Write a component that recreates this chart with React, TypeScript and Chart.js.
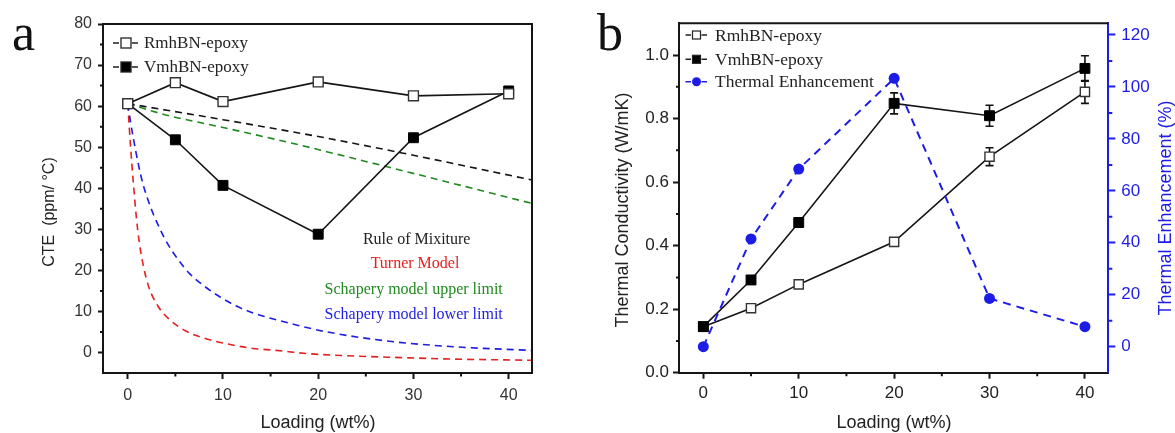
import React, { useEffect, useRef } from 'react';
import { Chart, registerables } from 'chart.js';

Chart.register(...registerables);

// ---------- DATA ----------
const loading = [0, 5, 10, 20, 30, 40];

// panel a: CTE (ppm/°C)
const cteRmh = [60.6, 65.7, 61.1, 65.9, 62.5, 63.0];
const cteVmh = [60.6, 51.8, 40.7, 28.8, 52.3, 63.7];

const mixX = [0, 4.1, 10, 18.1, 20.9, 30.7, 42.45];
const mixY = [60.6, 59.0, 56.7, 53.4, 52.2, 47.7, 42.0];

const upperX = [0, 4.1, 10, 18.1, 20.9, 30.7, 42.45];
const upperY = [60.6, 57.8, 54.8, 50.5, 48.9, 43.2, 36.3];

const lowerX = [0, 0.3, 0.6, 1.1, 1.6, 2.1, 2.7, 3.4, 4.1, 5.3, 6.5, 8.3, 9.7, 11.4, 13.2, 14.9, 17.7, 20.7, 27.2, 34.2, 42.45];
const lowerY = [60.6, 56, 52, 46, 41, 37.3, 33.6, 30, 26.8, 22.6, 19.2, 15.7, 13.5, 11.3, 9.6, 8.4, 6.7, 5.1, 2.8, 1.4, 0.5];

const turnerX = [0, 0.3, 0.6, 0.9, 1.2, 1.6, 2.2, 3.2, 4.4, 6.2, 8, 10, 12.8, 15.6, 19, 23, 28, 34, 42.45];
const turnerY = [60.6, 50, 41, 33, 27, 21.5, 16, 11.2, 8, 5.1, 3.5, 2.3, 1.1, 0.5, -0.3, -0.8, -1.2, -1.6, -1.9];

// panel b: thermal conductivity (W/mK) and enhancement (%)
const tcRmh = [0.145, 0.203, 0.278, 0.412, 0.68, 0.884];
const tcRmhErr = [0.005, 0.01, 0.01, 0.012, 0.028, 0.036];
const tcVmh = [0.145, 0.292, 0.473, 0.848, 0.809, 0.958];
const tcVmhErr = [0.01, 0.01, 0.015, 0.033, 0.033, 0.04];
const enhancement = [0, 41.5, 68.4, 103.3, 18.6, 7.7];

// tick values
const xMajor = [0, 10, 20, 30, 40];
const xMinor = [5, 15, 25, 35];
const cteMajor = [0, 10, 20, 30, 40, 50, 60, 70, 80];
const cteMinor = [5, 15, 25, 35, 45, 55, 65, 75];
const tcMajor = [0, 0.2, 0.4, 0.6, 0.8, 1.0];
const tcMinor = [0.1, 0.3, 0.5, 0.7, 0.9];
const enhMajor = [0, 20, 40, 60, 80, 100, 120];
const enhMinor = [10, 30, 50, 70, 90, 110];

const modelLabels = ['Rule of Mixiture', 'Turner Model', 'Schapery model upper limit', 'Schapery model lower limit'];

// ---------- STYLE ----------
const SANS = '"Liberation Sans", Arial, sans-serif';
const SERIF = '"Liberation Serif", "Times New Roman", serif';
const AXIS = '#151515';
const BLUE = '#1c1ce6';
const RED = '#e52020';
const GREEN = '#1f8a1f';

const pts = (xs: number[], ys: number[]) => xs.map((x, i) => ({ x, y: ys[i] }));

const fixSize = (dim: 'width' | 'height', size: number) => (s: any) => {
  s[dim] = size;
  s.paddingLeft = 0; s.paddingRight = 0; s.paddingTop = 0; s.paddingBottom = 0;
};
const setTicks = (vals: number[]) => (s: any) => { s.ticks = vals.map((v) => ({ value: v })); };

const axisBase = (color: string, fontSize: number, pad: number, tickLen: number) => ({
  grid: { drawOnChartArea: false, drawTicks: true, tickLength: tickLen, tickWidth: 2, tickColor: color },
  border: { display: true, color, width: 2 },
  ticks: { color, padding: pad, font: { family: SANS, size: fontSize } },
});

// draws minor tick marks
const minorTicks = (specs: { id: string; vals: number[]; len: number; color: string }[]) => ({
  id: 'minorTicks',
  afterDraw(chart: any) {
    const ctx = chart.ctx;
    ctx.save();
    ctx.lineWidth = 2;
    for (const sp of specs) {
      const sc = chart.scales[sp.id];
      ctx.strokeStyle = sp.color;
      ctx.beginPath();
      for (const v of sp.vals) {
        const p = sc.getPixelForValue(v);
        if (sc.isHorizontal()) {
          ctx.moveTo(p, sc.top); ctx.lineTo(p, sc.top + sp.len);
        } else if (sc.position === 'left') {
          ctx.moveTo(sc.right, p); ctx.lineTo(sc.right - sp.len, p);
        } else {
          ctx.moveTo(sc.left, p); ctx.lineTo(sc.left + sp.len, p);
        }
      }
      ctx.stroke();
    }
    ctx.restore();
  },
});

const rotText = (ctx: any, text: string, x: number, y: number) => {
  ctx.save();
  ctx.translate(x, y);
  ctx.rotate(-Math.PI / 2);
  ctx.textAlign = 'center';
  ctx.textBaseline = 'middle';
  ctx.fillText(text, 0, 0);
  ctx.restore();
};

function ChartA() {
  const ref = useRef<HTMLCanvasElement>(null);
  useEffect(() => {
    const decor = {
      id: 'decorA',
      afterDraw(chart: any) {
        const ctx = chart.ctx;
        const a = chart.chartArea;
        ctx.save();
        // box top/right
        ctx.strokeStyle = AXIS;
        ctx.lineWidth = 2;
        ctx.beginPath();
        ctx.moveTo(a.left, a.top); ctx.lineTo(a.right, a.top); ctx.lineTo(a.right, a.bottom);
        ctx.stroke();
        // panel letter
        ctx.fillStyle = '#111';
        ctx.font = `52px ${SERIF}`;
        ctx.textAlign = 'left';
        ctx.textBaseline = 'alphabetic';
        ctx.fillText('a', 12, 50);
        // axis titles
        ctx.fillStyle = '#222';
        ctx.font = `18px ${SANS}`;
        ctx.textAlign = 'center';
        ctx.textBaseline = 'middle';
        ctx.fillText('Loading (wt%)', 318, 423);
        ctx.font = `16px ${SANS}`;
        rotText(ctx, 'CTE  (ppm/ °C)', 50, 212);
        // legend
        const rows = [
          { label: 'RmhBN-epoxy', fill: '#fff', y: 43 },
          { label: 'VmhBN-epoxy', fill: '#000', y: 67 },
        ];
        for (const r of rows) {
          ctx.strokeStyle = '#222';
          ctx.lineWidth = 1.5;
          ctx.beginPath();
          ctx.moveTo(113, r.y); ctx.lineTo(119, r.y);
          ctx.moveTo(132, r.y); ctx.lineTo(138, r.y);
          ctx.stroke();
          ctx.fillStyle = r.fill;
          ctx.fillRect(121, r.y - 5, 10, 10);
          ctx.strokeStyle = '#222';
          ctx.lineWidth = 1.3;
          ctx.strokeRect(121, r.y - 5, 10, 10);
          ctx.fillStyle = '#222';
          ctx.font = `17px ${SERIF}`;
          ctx.textAlign = 'left';
          ctx.textBaseline = 'middle';
          ctx.fillText(r.label, 144, r.y + 1);
        }
        // model labels
        const lab = [
          { t: modelLabels[0], c: '#222', x: 416.7, y: 239.5 },
          { t: modelLabels[1], c: RED, x: 415, y: 263.5 },
          { t: modelLabels[2], c: GREEN, x: 413.7, y: 290 },
          { t: modelLabels[3], c: BLUE, x: 413.7, y: 314.5 },
        ];
        ctx.font = `16px ${SERIF}`;
        ctx.textAlign = 'center';
        for (const l of lab) {
          ctx.fillStyle = l.c;
          ctx.fillText(l.t, l.x, l.y);
        }
        ctx.restore();
      },
    };
    const curve = (label: string, xs: number[], ys: number[], color: string, order: number) => ({
      label,
      data: pts(xs, ys),
      borderColor: color,
      borderWidth: 1.6,
      borderDash: [7, 5],
      pointRadius: 0,
      cubicInterpolationMode: 'monotone',
      order,
    });
    const chart = new Chart(ref.current!, {
      type: 'line',
      data: {
        datasets: [
          {
            label: 'RmhBN-epoxy', data: pts(loading, cteRmh), borderColor: '#151515', borderWidth: 1.6,
            pointStyle: 'rect', pointRadius: 7, pointBackgroundColor: '#fff', pointBorderColor: '#333',
            pointBorderWidth: 1.4, order: 0,
          },
          {
            label: 'VmhBN-epoxy', data: pts(loading, cteVmh), borderColor: '#151515', borderWidth: 1.6,
            pointStyle: 'rect', pointRadius: 7, pointBackgroundColor: '#000', pointBorderColor: '#000',
            pointBorderWidth: 1, order: 1,
          },
          curve(modelLabels[0], mixX, mixY, '#151515', 2),
          curve(modelLabels[2], upperX, upperY, GREEN, 3),
          curve(modelLabels[3], lowerX, lowerY, BLUE, 4),
          curve(modelLabels[1], turnerX, turnerY, RED, 5),
        ] as any,
      },
      options: {
        animation: false,
        responsive: false,
        layout: { padding: { left: 0, right: 28, top: 24, bottom: 0 } },
        plugins: { legend: { display: false }, tooltip: { enabled: false } },
        scales: {
          x: {
            type: 'linear', min: -2.6, max: 42.45,
            afterBuildTicks: setTicks(xMajor), afterFit: fixSize('height', 60),
            ...axisBase(AXIS, 16, 7, 6),
            ticks: { color: '#333', padding: 7, font: { family: SANS, size: 16 } },
          },
          y: {
            type: 'linear', min: -5, max: 80,
            afterBuildTicks: setTicks(cteMajor), afterFit: fixSize('width', 103),
            ...axisBase(AXIS, 16, 6, 5),
            ticks: { color: '#333', padding: 6, font: { family: SANS, size: 16 } },
          },
        },
      } as any,
      plugins: [
        minorTicks([
          { id: 'x', vals: xMinor, len: 3.5, color: AXIS },
          { id: 'y', vals: cteMinor, len: 3, color: AXIS },
        ]),
        decor,
      ],
    });
    return () => chart.destroy();
  }, []);
  return <canvas ref={ref} width={560} height={433} style={{ position: 'absolute', left: 0, top: 0 }} />;
}

function ChartB() {
  const ref = useRef<HTMLCanvasElement>(null);
  useEffect(() => {
    const errBars = {
      id: 'errBars',
      beforeDatasetsDraw(chart: any) {
        const ctx = chart.ctx;
        const xs = chart.scales.x;
        const ys = chart.scales.y;
        ctx.save();
        ctx.strokeStyle = '#111';
        ctx.lineWidth = 1.6;
        const sets = [
          { v: tcRmh, e: tcRmhErr },
          { v: tcVmh, e: tcVmhErr },
        ];
        for (const s of sets) {
          ctx.beginPath();
          loading.forEach((x, i) => {
            const px = xs.getPixelForValue(x);
            const y1 = ys.getPixelForValue(s.v[i] + s.e[i]);
            const y2 = ys.getPixelForValue(s.v[i] - s.e[i]);
            ctx.moveTo(px, y1); ctx.lineTo(px, y2);
            ctx.moveTo(px - 4, y1); ctx.lineTo(px + 4, y1);
            ctx.moveTo(px - 4, y2); ctx.lineTo(px + 4, y2);
          });
          ctx.stroke();
        }
        ctx.restore();
      },
    };
    const decor = {
      id: 'decorB',
      afterDraw(chart: any) {
        const ctx = chart.ctx;
        const a = chart.chartArea;
        ctx.save();
        ctx.strokeStyle = AXIS;
        ctx.lineWidth = 2;
        ctx.beginPath();
        ctx.moveTo(a.left, a.top); ctx.lineTo(a.right, a.top);
        ctx.stroke();
        ctx.fillStyle = '#111';
        ctx.font = `52px ${SERIF}`;
        ctx.textAlign = 'left';
        ctx.textBaseline = 'alphabetic';
        ctx.fillText('b', 37, 50);
        ctx.fillStyle = '#222';
        ctx.font = `18px ${SANS}`;
        ctx.textAlign = 'center';
        ctx.textBaseline = 'middle';
        ctx.fillText('Loading (wt%)', 334, 423);
        rotText(ctx, 'Thermal Conductivity (W/mK)', 63, 210);
        ctx.fillStyle = BLUE;
        rotText(ctx, 'Thermal Enhancement (%)', 606, 208);
        // legend
        const rows = [
          { label: 'RmhBN-epoxy', kind: 'open', y: 35 },
          { label: 'VmhBN-epoxy', kind: 'filled', y: 59.3 },
          { label: 'Thermal Enhancement', kind: 'circle', y: 81.7 },
        ];
        for (const r of rows) {
          const c = r.kind === 'circle' ? BLUE : '#222';
          ctx.strokeStyle = c;
          ctx.lineWidth = 1.6;
          ctx.beginPath();
          ctx.moveTo(125.5, r.y); ctx.lineTo(131, r.y);
          ctx.moveTo(141.5, r.y); ctx.lineTo(147, r.y);
          ctx.stroke();
          if (r.kind === 'circle') {
            ctx.fillStyle = BLUE;
            ctx.beginPath();
            ctx.arc(136.5, r.y, 4.5, 0, Math.PI * 2);
            ctx.fill();
          } else {
            ctx.fillStyle = r.kind === 'open' ? '#fff' : '#000';
            ctx.fillRect(132.5, r.y - 4, 8, 8);
            ctx.lineWidth = 1.2;
            ctx.strokeStyle = '#222';
            ctx.strokeRect(132.5, r.y - 4, 8, 8);
          }
          ctx.fillStyle = '#222';
          ctx.font = `17.5px ${SERIF}`;
          ctx.textAlign = 'left';
          ctx.textBaseline = 'middle';
          ctx.fillText(r.label, 155, r.y + 1);
        }
        ctx.restore();
      },
    };
    const chart = new Chart(ref.current!, {
      type: 'line',
      data: {
        datasets: [
          {
            label: 'Thermal Enhancement', data: pts(loading, enhancement), yAxisID: 'y2',
            borderColor: BLUE, borderWidth: 2, borderDash: [8, 6], pointStyle: 'circle', pointRadius: 5.5,
            pointBackgroundColor: BLUE, pointBorderColor: BLUE, pointBorderWidth: 0, order: 0,
          },
          {
            label: 'VmhBN-epoxy', data: pts(loading, tcVmh), yAxisID: 'y',
            borderColor: '#151515', borderWidth: 1.6, pointStyle: 'rect', pointRadius: 7,
            pointBackgroundColor: '#000', pointBorderColor: '#000', pointBorderWidth: 1, order: 1,
          },
          {
            label: 'RmhBN-epoxy', data: pts(loading, tcRmh), yAxisID: 'y',
            borderColor: '#151515', borderWidth: 1.6, pointStyle: 'rect', pointRadius: 6.5,
            pointBackgroundColor: '#fff', pointBorderColor: '#333', pointBorderWidth: 1.4, order: 2,
          },
        ] as any,
      },
      options: {
        animation: false,
        responsive: false,
        layout: { padding: { left: 0, right: 0, top: 23.3, bottom: 0 } },
        plugins: { legend: { display: false }, tooltip: { enabled: false } },
        scales: {
          x: {
            type: 'linear', min: -2.55, max: 42.45,
            afterBuildTicks: setTicks(xMajor), afterFit: fixSize('height', 60.3),
            ...axisBase(AXIS, 17, 4, 6),
            ticks: { color: '#222', padding: 4, font: { family: SANS, size: 17 } },
          },
          y: {
            type: 'linear', position: 'left', min: 0, max: 1.1,
            afterBuildTicks: setTicks(tcMajor), afterFit: fixSize('width', 119),
            ...axisBase(AXIS, 17, 4, 6),
            ticks: { color: '#222', padding: 4, font: { family: SANS, size: 17 }, callback: (v: number) => v.toFixed(1) },
          },
          y2: {
            type: 'linear', position: 'right', min: -10, max: 124.5,
            afterBuildTicks: setTicks(enhMajor), afterFit: fixSize('width', 66.7),
            ...axisBase(BLUE, 17, 6, 7),
            ticks: { color: BLUE, padding: 6, font: { family: SANS, size: 17 } },
          },
        },
      } as any,
      plugins: [
        errBars,
        minorTicks([
          { id: 'x', vals: xMinor, len: 3.5, color: AXIS },
          { id: 'y', vals: tcMinor, len: 3, color: AXIS },
          { id: 'y2', vals: enhMinor, len: 4, color: BLUE },
        ]),
        decor,
      ],
    });
    return () => chart.destroy();
  }, []);
  return <canvas ref={ref} width={615} height={433} style={{ position: 'absolute', left: 560, top: 0 }} />;
}

export default function App() {
  return (
    <div style={{ position: 'absolute', left: 0, top: 0, width: 1175, height: 433, background: '#fff', overflow: 'hidden' }}>
      <ChartA />
      <ChartB />
    </div>
  );
}
